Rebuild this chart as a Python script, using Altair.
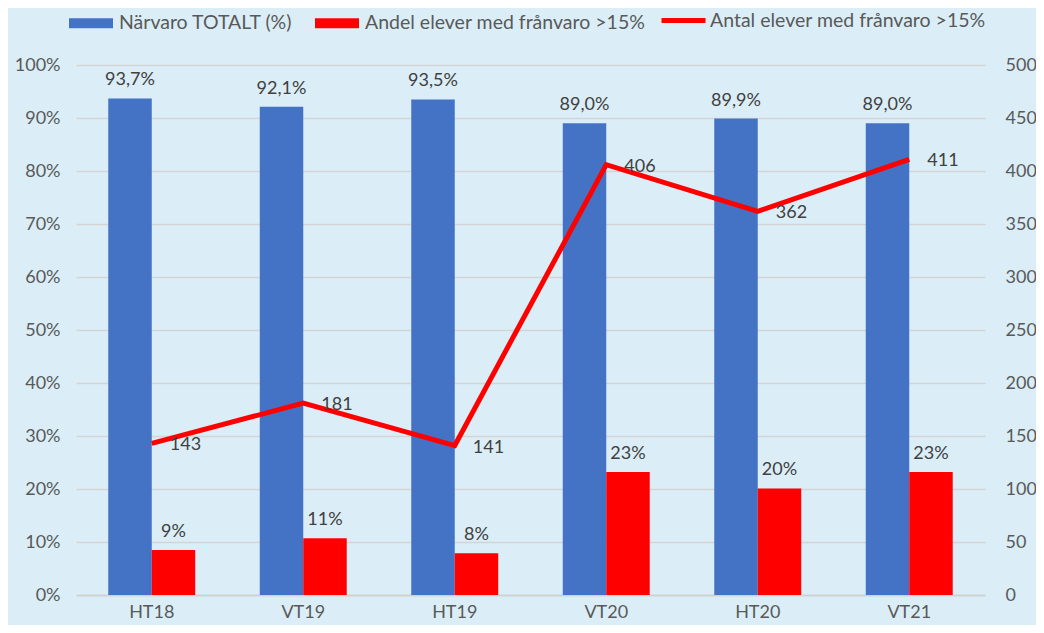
import altair as alt
import pandas as pd

periods = ["HT18", "VT19", "HT19", "VT20", "HT20", "VT21"]
narvaro = [93.7, 92.1, 93.5, 89.0, 89.9, 89.0]
narvaro_labels = ["93,7%", "92,1%", "93,5%", "89,0%", "89,9%", "89,0%"]
andel = [8.5, 10.7, 7.9, 23.2, 20.1, 23.2]
andel_labels = ["9%", "11%", "8%", "23%", "20%", "23%"]
antal = [143, 181, 141, 406, 362, 411]

s1 = "Närvaro TOTALT (%)"
s2 = "Andel elever med frånvaro >15%"
s3 = "Antal elever med frånvaro >15%"

bars_df = pd.DataFrame({
    "period": periods * 2,
    "serie": [s1] * 6 + [s2] * 6,
    "value": narvaro + andel,
    "label": narvaro_labels + andel_labels,
})
line_df = pd.DataFrame({"period": periods, "antal": antal, "serie": [s3] * 6})

FONT = "Lato"
AX_COL = "#595959"
TXT_COL = "#404040"

x = alt.X("period:N", sort=periods,
          scale=alt.Scale(paddingInner=0.426, paddingOuter=0.213),
          axis=alt.Axis(title=None, labelAngle=0, domainColor="#d0d0d0", domainWidth=1.5,
                        ticks=False, labelPadding=8, labelFontSize=18, labelColor=AX_COL,
                        labelFont=FONT, grid=False))
xoff = alt.XOffset("serie:N", sort=[s1, s2], scale=alt.Scale(paddingInner=0, paddingOuter=0))

y_left = alt.Y("value:Q", scale=alt.Scale(domain=[0, 100]),
               axis=alt.Axis(title=None, orient="left", values=list(range(0, 101, 10)),
                             labelExpr="datum.value + '%'", grid=True, gridColor="#d4d4d4",
                             gridWidth=1.5, domain=False, ticks=False, labelPadding=16,
                             labelFontSize=18, labelColor=AX_COL, labelFont=FONT))

fill = alt.Fill("serie:N", sort=[s1, s2],
                scale=alt.Scale(domain=[s1, s2], range=["#4472C4", "#FF0000"]),
                legend=alt.Legend(title=None, orient="none", direction="horizontal",
                                  legendX=-8, legendY=-65, padding=0,
                                  symbolType="M-1,-0.23H1V0.23H-1Z", symbolSize=1936,
                                  labelFontSize=19.5, labelFont=FONT, labelColor=AX_COL,
                                  labelOffset=5, columnPadding=21, labelLimit=400))

bars = alt.Chart(bars_df).mark_bar().encode(x=x, xOffset=xoff, y=y_left, fill=fill)
bar_text = alt.Chart(bars_df).mark_text(baseline="bottom", dy=-9, fontSize=18, font=FONT,
                                        color=TXT_COL).encode(
    x=x, xOffset=xoff, y=alt.Y("value:Q"), text="label:N")

left = alt.layer(bars, bar_text)

y_right = alt.Y("antal:Q", scale=alt.Scale(domain=[0, 500]),
                axis=alt.Axis(title=None, orient="right", values=list(range(0, 501, 50)),
                              grid=False, domain=False, ticks=False, labelPadding=20,
                              labelFontSize=18, labelColor=AX_COL, labelFont=FONT))

stroke = alt.Stroke("serie:N", scale=alt.Scale(domain=[s3], range=["#FF0000"]),
                    legend=alt.Legend(title=None, orient="none", legendX=583, legendY=-69,
                                      padding=0, symbolType="stroke", symbolSize=1936,
                                      symbolStrokeWidth=5, labelFontSize=19.5, labelFont=FONT,
                                      labelColor=AX_COL, labelOffset=2, labelLimit=400))

line = alt.Chart(line_df).mark_line(strokeWidth=5).encode(x=x, y=y_right, stroke=stroke)
line_text = alt.Chart(line_df).mark_text(align="left", dx=18, dy=2, fontSize=18, font=FONT,
                                         color=TXT_COL).encode(
    x=x, y=alt.Y("antal:Q"), text="antal:Q")

right = alt.layer(line, line_text)

chart = alt.layer(left, right).resolve_scale(
    y="independent", fill="independent", stroke="independent"
).properties(
    width=909, height=530,
    autosize=alt.AutoSizeParams(type="none"),
    padding={"left": 68, "top": 57, "right": 51, "bottom": 30},
    background="#dbeef7",
).configure_view(stroke=None)

chart.save("out.html", embed_options={"renderer": "svg", "actions": False})
